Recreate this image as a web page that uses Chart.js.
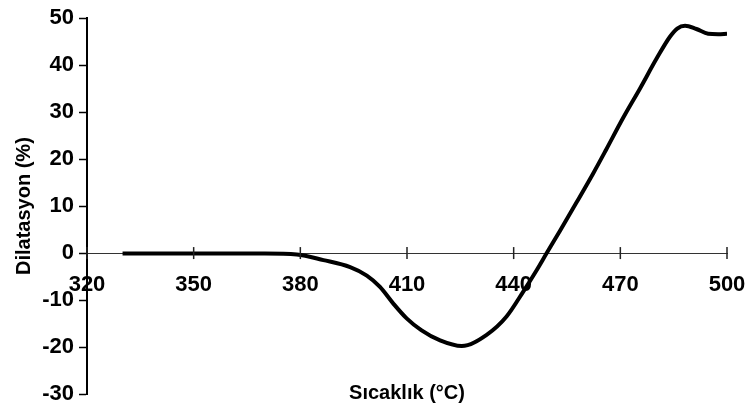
<!DOCTYPE html>
<html>
<head>
<meta charset="utf-8">
<script src="https://cdn.jsdelivr.net/npm/chart.js@4"></script>
<style>
  html, body { margin: 0; padding: 0; background: #fff; }
  #wrap { width: 750px; height: 419px; }
</style>
</head>
<body>
<div id="wrap"><canvas id="chartDilatasyon"></canvas></div>
<script>
// sıcaklık (°C) ve dilatasyon (%) okumaları
const sicaklik = [330, 350, 370, 379, 386.5, 394, 398.7, 402.4, 406.1, 409.9, 414, 419.3, 425.4, 432.4, 438, 442.7, 446.5, 449.3, 453, 457.7, 462.4, 466, 470.8, 475.5, 480.2, 483.9, 486, 488.2, 491.4, 494.7, 497.5, 500];
const dilatasyon = [-0.1, -0.1, -0.1, -0.3, -1.5, -3.0, -4.8, -7.2, -10.7, -13.9, -16.4, -18.6, -19.8, -17.4, -13.5, -8.2, -3.6, 0, 4.7, 10.8, 17.0, 22.0, 28.8, 35.0, 41.4, 46.0, 47.8, 48.4, 47.7, 46.7, 46.6, 46.7];
const xTicks = [320, 350, 380, 410, 440, 470, 500];
const yTicks = [-30, -20, -10, 0, 10, 20, 30, 40, 50];

const FONT = "'Liberation Sans', Arial, sans-serif";

// x ekseni üzerindeki kısa çentikler (eksenin iki yanına taşan)
const capraz = {
  id: "capraz",
  afterDraw(chart) {
    const x = chart.scales.x, y = chart.scales.y;
    const y0 = y.getPixelForValue(0);
    const c = chart.ctx;
    c.save();
    c.strokeStyle = "#222";
    c.lineWidth = 1.5;
    xTicks.forEach((t) => {
      const px = x.getPixelForValue(t);
      c.beginPath();
      c.moveTo(px, y0 - 6);
      c.lineTo(px, y0 + 6);
      c.stroke();
    });
    c.restore();
  },
};

const puntos = sicaklik.map((s, i) => ({ x: s, y: dilatasyon[i] }));

new Chart(document.getElementById("chartDilatasyon"), {
  type: "scatter",
  data: {
    datasets: [
      {
        data: puntos,
        showLine: true,
        borderColor: "#000",
        borderWidth: 4,
        pointRadius: 0,
        cubicInterpolationMode: "monotone",
        fill: false,
      },
    ],
  },
  options: {
    responsive: true,
    maintainAspectRatio: false,
    animation: false,
    layout: { padding: { top: 15, right: 23, bottom: 25, left: 0 } },
    plugins: { legend: { display: false }, tooltip: { enabled: false } },
    scales: {
      x: {
        type: "linear",
        position: { y: 0 },
        min: 320,
        max: 500,
        afterBuildTicks: (s) => { s.ticks = xTicks.map((v) => ({ value: v })); },
        // etiket taşması için ek boşluk bırakma
        afterFit: (s) => { s.paddingLeft = 0; s.paddingRight = 0; },
        grid: { display: false },
        border: { color: "#333", width: 1 },
        ticks: {
          color: "#000",
          padding: 11,
          maxRotation: 0,
          autoSkip: false,
          font: { family: FONT, size: 22, weight: "bold" },
        },
        title: {
          display: true,
          text: "Sıcaklık (°C)",
          color: "#000",
          padding: { top: 72, bottom: 0 },
          font: { family: FONT, size: 20, weight: "bold" },
        },
      },
      y: {
        type: "linear",
        min: -30,
        max: 50,
        afterBuildTicks: (s) => { s.ticks = yTicks.map((v) => ({ value: v })); },
        afterFit: (s) => { s.width = 87; },
        grid: { drawOnChartArea: false, tickLength: 8, color: "#000", tickWidth: 1.5 },
        border: { color: "#000", width: 2 },
        ticks: {
          color: "#000",
          padding: 5,
          font: { family: FONT, size: 22, weight: "bold" },
        },
        title: {
          display: true,
          text: "Dilatasyon (%)",
          color: "#000",
          padding: { top: 12, bottom: 0 },
          font: { family: FONT, size: 20, weight: "bold" },
        },
      },
    },
  },
  plugins: [capraz],
});
</script>
</body>
</html>
